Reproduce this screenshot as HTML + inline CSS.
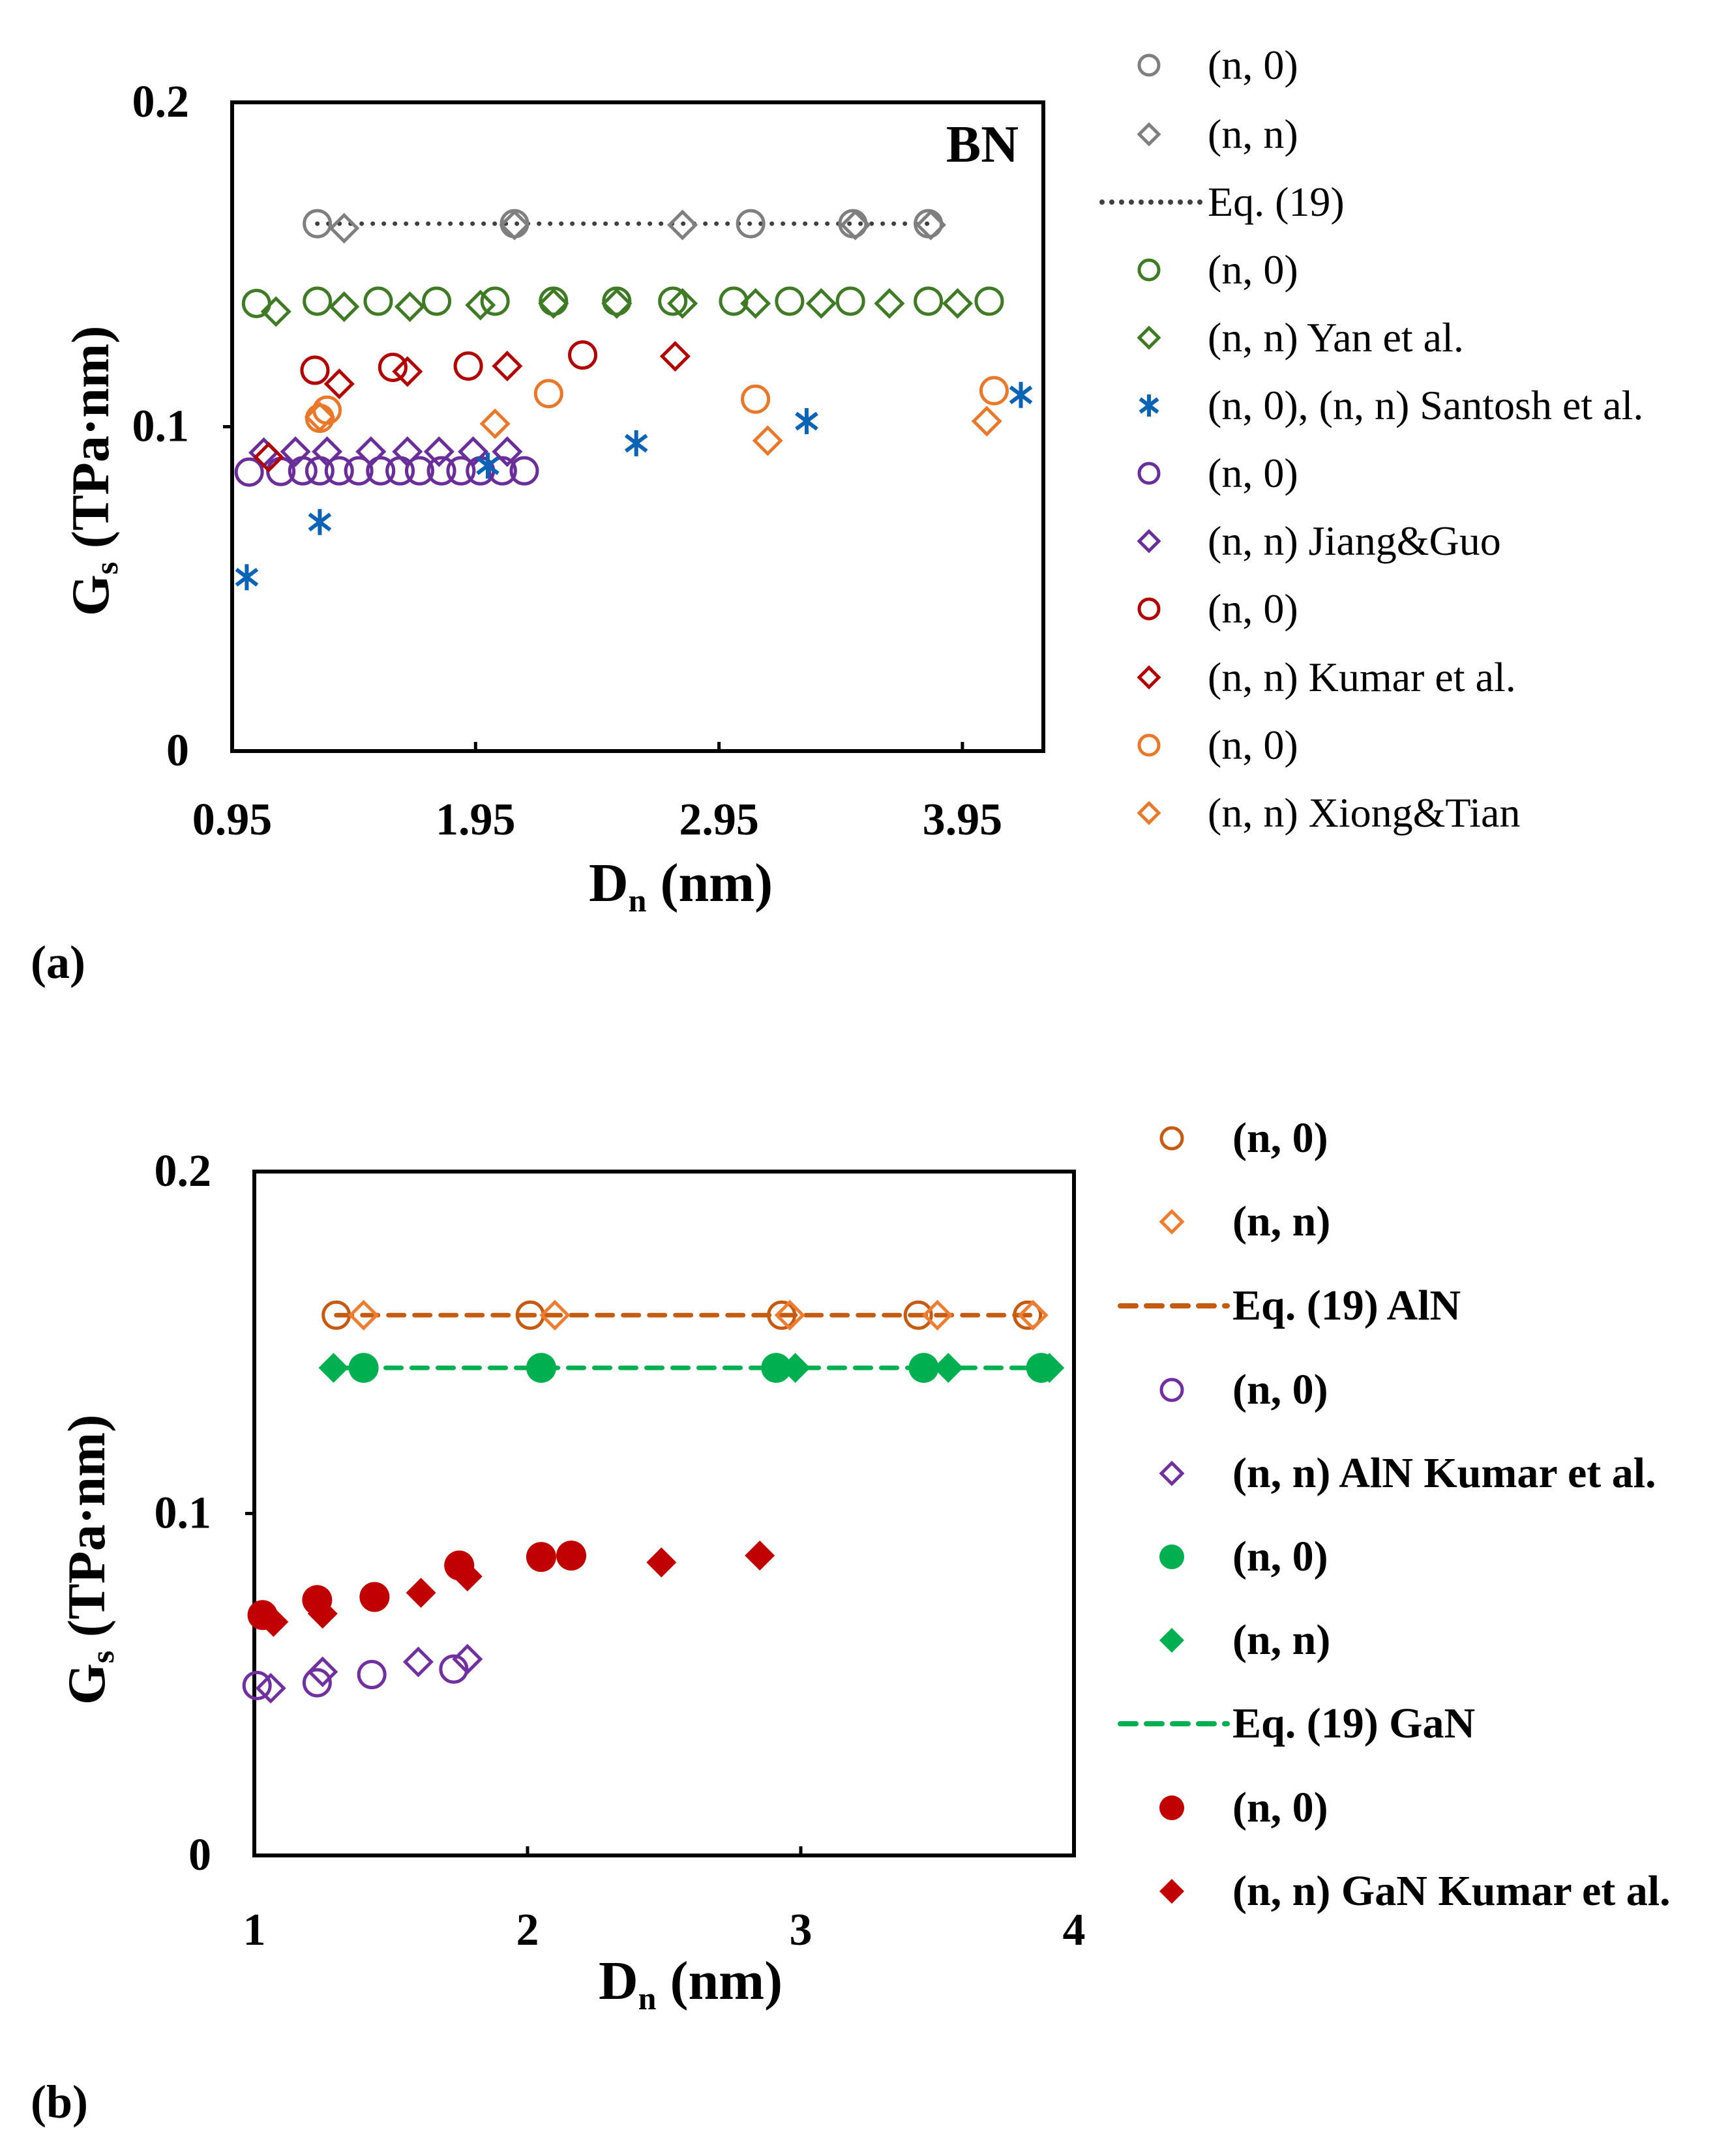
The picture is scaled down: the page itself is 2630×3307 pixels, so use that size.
<!DOCTYPE html>
<html><head><meta charset="utf-8">
<style>
html,body{margin:0;padding:0;background:#fff;}
svg{display:block;font-family:"Liberation Serif",serif;}
</style></head>
<body>
<svg id="fig" width="2630" height="3307" viewBox="0 0 2630 3307"></svg>
<script>
// ===== Panel (a) data: BN =====
const aGrayCircX=[1.30,2.11,3.08,3.50,3.81];
const aGrayCircY=[0.1626,0.1626,0.1626,0.1626,0.1626];
const aGrayDiaX=[1.41,2.11,2.80,3.51,3.82];
const aGrayDiaY=[0.1612,0.1622,0.1622,0.1622,0.1622];
const aEqX=[1.30,3.82];
const aEqY=[0.1626,0.1626];
const aGreenCircX=[1.05,1.30,1.55,1.79,2.03,2.27,2.53,2.76,3.01,3.24,3.49,3.81,4.06];
const aGreenCircY=[0.1380,0.1387,0.1387,0.1387,0.1387,0.1387,0.1387,0.1387,0.1387,0.1387,0.1387,0.1387,0.1387];
const aGreenDiaX=[1.13,1.41,1.68,1.97,2.27,2.53,2.80,3.10,3.37,3.65,3.93];
const aGreenDiaY=[0.1355,0.1370,0.1370,0.1375,0.1380,0.1380,0.1380,0.1380,0.1380,0.1380,0.1380];
const aBlueX=[1.01,1.31,2.00,2.61,3.31,4.19];
const aBlueY=[0.0536,0.0706,0.0880,0.0949,0.1017,0.1098];
const aPurpCircX=[1.02,1.15,1.24,1.31,1.39,1.47,1.56,1.64,1.72,1.81,1.89,1.97,2.06,2.15];
const aPurpCircY=[0.0860,0.0862,0.0864,0.0864,0.0864,0.0864,0.0864,0.0864,0.0864,0.0864,0.0864,0.0864,0.0864,0.0864];
const aPurpDiaX=[1.08,1.21,1.34,1.52,1.67,1.80,1.94,2.08];
const aPurpDiaY=[0.0920,0.0923,0.0923,0.0923,0.0923,0.0923,0.0923,0.0923];
const aRedCircX=[1.29,1.61,1.92,2.39];
const aRedCircY=[0.1174,0.1183,0.1187,0.1221];
const aRedDiaX=[1.10,1.39,1.67,2.08,2.77];
const aRedDiaY=[0.0906,0.1132,0.1170,0.1187,0.1217];
const aOrCircX=[1.31,1.34,2.25,3.10,4.08];
const aOrCircY=[0.1026,0.1051,0.1102,0.1085,0.1111];
const aOrDiaX=[1.31,2.03,3.15,4.05];
const aOrDiaY=[0.1030,0.1009,0.0957,0.1017];
const aXTicks=[0.95,1.95,2.95,3.95];
const aXTickLabels=["0.95","1.95","2.95","3.95"];
const aYTicks=[0,0.1,0.2];
const aYTickLabels=["0","0.1","0.2"];
const aLegendLabels=["(n, 0)","(n, n)","Eq. (19)","(n, 0)","(n, n) Yan et al.","(n, 0), (n, n) Santosh et al.","(n, 0)","(n, n) Jiang&Guo","(n, 0)","(n, n) Kumar et al.","(n, 0)","(n, n) Xiong&Tian"];

// ===== Panel (b) data: AlN / GaN =====
const bAlnCircX=[1.30,2.01,2.93,3.43,3.83];
const bAlnCircY=[0.158,0.158,0.158,0.158,0.158];
const bAlnDiaX=[1.40,2.10,2.96,3.50,3.85];
const bAlnDiaY=[0.158,0.158,0.158,0.158,0.158];
const bAlnEqX=[1.30,3.87];
const bAlnEqY=[0.158,0.158];
const bGanCircX=[1.40,2.05,2.91,3.45,3.88];
const bGanCircY=[0.1426,0.1426,0.1426,0.1426,0.1426];
const bGanDiaX=[1.29,2.98,3.54,3.91];
const bGanDiaY=[0.1426,0.1426,0.1426,0.1426];
const bGanEqX=[1.29,3.91];
const bGanEqY=[0.1426,0.1426];
const bAlnKCircX=[1.01,1.23,1.43,1.73];
const bAlnKCircY=[0.0497,0.0505,0.0529,0.0545];
const bAlnKDiaX=[1.06,1.25,1.60,1.78];
const bAlnKDiaY=[0.0489,0.0537,0.0566,0.0574];
const bGanKCircX=[1.03,1.23,1.44,1.75,2.05,2.16];
const bGanKCircY=[0.0703,0.0747,0.0756,0.0848,0.0873,0.0877];
const bGanKDiaX=[1.07,1.25,1.61,1.78,2.49,2.85];
const bGanKDiaY=[0.0683,0.0707,0.0768,0.0816,0.0857,0.0877];
const bXTicks=[1,2,3,4];
const bXTickLabels=["1","2","3","4"];
const bYTicks=[0,0.1,0.2];
const bYTickLabels=["0","0.1","0.2"];
const bLegendLabels=["(n, 0)","(n, n)","Eq. (19) AlN","(n, 0)","(n, n) AlN Kumar et al.","(n, 0)","(n, n)","Eq. (19) GaN","(n, 0)","(n, n) GaN Kumar et al."];

const NS="http://www.w3.org/2000/svg";
const svg=document.getElementById('fig');
function mk(tag,attrs,parent){const e=document.createElementNS(NS,tag);for(const k in attrs)e.setAttribute(k,attrs[k]);(parent||svg).appendChild(e);return e;}
function txt(s,attrs,parent){const e=mk('text',attrs,parent);e.textContent=s;return e;}

// axis functions
const A={x0:356,x1:1600,y0:1152,y1:157,xmin:0.95,xmax:0.95+1244/373.3,ymin:0,ymax:0.2};
const B={x0:390,x1:1647,y0:2846,y1:1797,xmin:1,xmax:4,ymin:0,ymax:0.2};
function sx(ax,v){return ax.x0+(v-ax.xmin)/(ax.xmax-ax.xmin)*(ax.x1-ax.x0);}
function sy(ax,v){return ax.y0-(v-ax.ymin)/(ax.ymax-ax.ymin)*(ax.y0-ax.y1);}

function marker(g,type,x,y,color,r){
  let e;
  if(type==='circ'){e=mk('circle',{cx:x,cy:y,r:r,fill:'none',stroke:color,'stroke-width':5},g);}
  else if(type==='fcirc'){e=mk('circle',{cx:x,cy:y,r:r,fill:color,stroke:'none'},g);}
  else if(type==='dia'){e=mk('polygon',{points:`${x},${y-r} ${x+r},${y} ${x},${y+r} ${x-r},${y}`,fill:'none',stroke:color,'stroke-width':5},g);}
  else if(type==='fdia'){e=mk('polygon',{points:`${x},${y-r} ${x+r},${y} ${x},${y+r} ${x-r},${y}`,fill:color,stroke:'none'},g);}
  else if(type==='star'){
    e=mk('g',{stroke:color,'stroke-width':6,fill:'none'},g);
    mk('line',{x1:x,y1:y-r,x2:x,y2:y+r},e);
    mk('line',{x1:x-r*0.8,y1:y-r*0.6,x2:x+r*0.8,y2:y+r*0.6},e);
    mk('line',{x1:x-r*0.8,y1:y+r*0.6,x2:x+r*0.8,y2:y-r*0.6},e);
  }
  return e;
}
function series(ax,name,xs,ys,type,color,r){
  const g=mk('g',{});
  
  
  for(let i=0;i<xs.length;i++){
    const m=marker(g,type,sx(ax,xs[i]),sy(ax,ys[i]),color,r);
    
    
  }
}
function line(ax,name,xs,ys,color,dash,w){
  const l=mk('line',{x1:sx(ax,xs[0]),y1:sy(ax,ys[0]),x2:sx(ax,xs[1]),y2:sy(ax,ys[1]),stroke:color,'stroke-width':w,'stroke-dasharray':dash,'stroke-linecap':'round'});
  
  
}
function axes(ax,pfx,xt,xtl,yt,ytl,xlabY){
  const f=mk('rect',{x:ax.x0,y:ax.y1,width:ax.x1-ax.x0,height:ax.y0-ax.y1,fill:'none',stroke:'#000','stroke-width':6});
  
  
  for(let i=0;i<xt.length;i++){
    const x=sx(ax,xt[i]);
    if(i>0){const t=mk('line',{x1:x,y1:ax.y0,x2:x,y2:ax.y0-14,stroke:'#000','stroke-width':5});
      
      }
    const l=txt(xtl[i],{x:x,y:xlabY,'text-anchor':'middle','font-size':70,'font-weight':'bold'});
    
    
  }
  for(let i=0;i<yt.length;i++){
    const y=sy(ax,yt[i]);
    if(i===1){const t=mk('line',{x1:ax.x0,y1:y,x2:ax.x0-14,y2:y,stroke:'#000','stroke-width':5});
      
      }
    const l=txt(ytl[i],{x:ax.x0-66,y:y+22,'text-anchor':'end','font-size':70,'font-weight':'bold'});
    
    
  }
}
function legend(pfx,items,labels,mx,tx,ys,bold,fs){
  for(let i=0;i<items.length;i++){
    const g=mk('g',{});
    
    
    const it=items[i],y=ys[i];
    if(it.t==='line'){mk('line',{x1:it.x1,y1:y,x2:tx-8,y2:y,stroke:it.c,'stroke-width':it.w,'stroke-dasharray':it.d,'stroke-linecap':'round'},g);}
    else marker(g,it.t,mx,y,it.c,it.r);
    txt(labels[i],{x:tx,y:y+21,'font-size':fs,'font-weight':bold?'bold':'normal'},g);
  }
}

// ===== Panel (a) =====
axes(A,'a',aXTicks,aXTickLabels,aYTicks,aYTickLabels,1280);
line(A,'a-eq19-line',aEqX,aEqY,'#404040','0 17',7);
series(A,'a-gray-n0',aGrayCircX,aGrayCircY,'circ','#7f7f7f',20);
series(A,'a-gray-nn',aGrayDiaX,aGrayDiaY,'dia','#7f7f7f',20);
series(A,'a-yan-n0',aGreenCircX,aGreenCircY,'circ','#3f7a25',20);
series(A,'a-yan-nn',aGreenDiaX,aGreenDiaY,'dia','#3f7a25',20);
series(A,'a-purple-n0',aPurpCircX,aPurpCircY,'circ','#6a2e9a',20);
series(A,'a-jiang-nn',aPurpDiaX,aPurpDiaY,'dia','#6a2e9a',20);
series(A,'a-red-n0',aRedCircX,aRedCircY,'circ','#b00000',20);
series(A,'a-kumar-nn',aRedDiaX,aRedDiaY,'dia','#b00000',20);
series(A,'a-orange-n0',aOrCircX,aOrCircY,'circ','#e8782a',20);
series(A,'a-xiong-nn',aOrDiaX,aOrDiaY,'dia','#e8782a',20);
series(A,'a-santosh',aBlueX,aBlueY,'star','#0b63b5',20);
let e=txt('BN',{x:1562,y:248,'text-anchor':'end','font-size':80,'font-weight':'bold'});


e=txt('G',{x:0,y:0,'font-size':82,'font-weight':'bold',transform:'translate(166,945) rotate(-90)'});


{const ts=mk('tspan',{'font-size':50,dy:14},e);ts.textContent='s';const t2=mk('tspan',{dy:-14},e);t2.textContent=' (TPa·nm)';}
e=txt('D',{x:903,y:1382,'font-size':84,'font-weight':'bold'});


{const ts=mk('tspan',{'font-size':50,dy:16},e);ts.textContent='n';const t2=mk('tspan',{dy:-16},e);t2.textContent=' (nm)';}
e=txt('(a)',{x:47,y:1500,'font-size':72,'font-weight':'bold'});



const aLegItems=[{t:'circ',c:'#7f7f7f',r:15},{t:'dia',c:'#7f7f7f',r:15},{t:'line',c:'#404040',d:'0 15',w:8,x1:1690},{t:'circ',c:'#3f7a25',r:15},{t:'dia',c:'#3f7a25',r:15},{t:'star',c:'#0b63b5',r:17},{t:'circ',c:'#6a2e9a',r:15},{t:'dia',c:'#6a2e9a',r:15},{t:'circ',c:'#b00000',r:15},{t:'dia',c:'#b00000',r:15},{t:'circ',c:'#e8782a',r:15},{t:'dia',c:'#e8782a',r:15}];
legend('a',aLegItems,aLegendLabels,1762,1852,[100,206,310,414,518,622,726,830,934,1039,1143,1247],false,64);

// ===== Panel (b) =====
axes(B,'b',bXTicks,bXTickLabels,bYTicks,bYTickLabels,2983);
line(B,'b-eq19-aln-line',bAlnEqX,bAlnEqY,'#c55a11','24 16',7);
line(B,'b-eq19-gan-line',bGanEqX,bGanEqY,'#00b050','24 16',7);
series(B,'b-aln-n0',bAlnCircX,bAlnCircY,'circ','#c55a11',20);
series(B,'b-aln-nn',bAlnDiaX,bAlnDiaY,'dia','#ed7d31',20);
series(B,'b-gan-nn',bGanDiaX,bGanDiaY,'fdia','#00b050',23);
series(B,'b-gan-n0',bGanCircX,bGanCircY,'fcirc','#00b050',23);
series(B,'b-aln-kumar-n0',bAlnKCircX,bAlnKCircY,'circ','#7030a0',20);
series(B,'b-aln-kumar-nn',bAlnKDiaX,bAlnKDiaY,'dia','#7030a0',20);
series(B,'b-gan-kumar-nn',bGanKDiaX,bGanKDiaY,'fdia','#c00000',23);
series(B,'b-gan-kumar-n0',bGanKCircX,bGanKCircY,'fcirc','#c00000',23);
e=txt('G',{x:0,y:0,'font-size':82,'font-weight':'bold',transform:'translate(160,2615) rotate(-90)'});


{const ts=mk('tspan',{'font-size':50,dy:14},e);ts.textContent='s';const t2=mk('tspan',{dy:-14},e);t2.textContent=' (TPa·nm)';}
e=txt('D',{x:918,y:3066,'font-size':84,'font-weight':'bold'});


{const ts=mk('tspan',{'font-size':50,dy:16},e);ts.textContent='n';const t2=mk('tspan',{dy:-16},e);t2.textContent=' (nm)';}
e=txt('(b)',{x:47,y:3248,'font-size':72,'font-weight':'bold'});



const bLegItems=[{t:'circ',c:'#c55a11',r:16},{t:'dia',c:'#ed7d31',r:16},{t:'line',c:'#c55a11',d:'24 16',w:8,x1:1718},{t:'circ',c:'#7030a0',r:16},{t:'dia',c:'#7030a0',r:16},{t:'fcirc',c:'#00b050',r:19},{t:'fdia',c:'#00b050',r:19},{t:'line',c:'#00b050',d:'24 16',w:8,x1:1718},{t:'fcirc',c:'#c00000',r:19},{t:'fdia',c:'#c00000',r:19}];
legend('b',bLegItems,bLegendLabels,1797,1890,[1746,1874,2003,2132,2260,2388,2516,2644,2773,2901],true,66);
</script>
</body></html>
